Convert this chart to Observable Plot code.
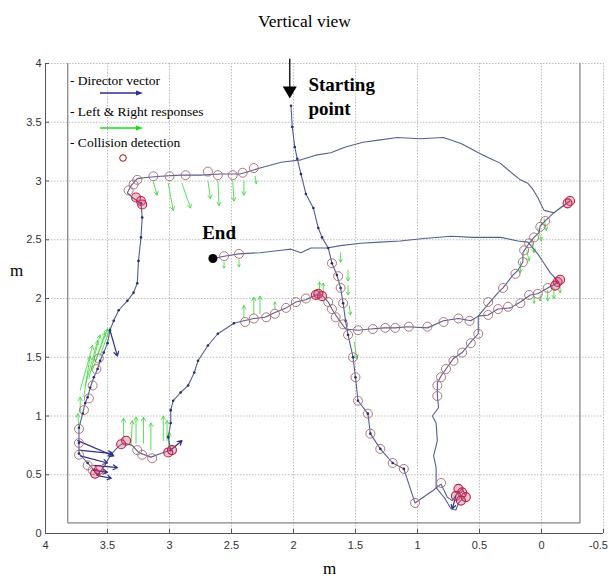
<!DOCTYPE html>
<html><head><meta charset="utf-8">
<script src="https://cdn.jsdelivr.net/npm/d3@7"></script>
<script src="https://cdn.jsdelivr.net/npm/@observablehq/plot@0.6"></script>
<style>
body{margin:0;background:#fff;}
#wrap{position:relative;width:609px;height:581px;font-family:"Liberation Serif","Times New Roman",serif;}
#chart{position:absolute;left:0;top:0;}
.t{position:absolute;white-space:nowrap;color:#000;line-height:1.15;}
.lg{position:absolute;left:0;top:0;}
</style></head><body><div id="wrap">
<div id="chart"></div>
<div class="t" style="left:0;width:609px;top:11px;text-align:center;font-size:17.5px;">Vertical view</div>
<div class="t" style="left:10px;top:261px;font-size:17px;">m</div>
<div class="t" style="left:323px;top:559px;font-size:17px;">m</div>
<div class="t" style="left:70px;top:73px;font-size:13.5px;">- Director vector</div>
<div class="t" style="left:70px;top:104px;font-size:13.5px;">- Left &amp; Right responses</div>
<div class="t" style="left:70px;top:135px;font-size:13.5px;">- Collision detection</div>
<svg class="lg" width="609" height="581">
  <line x1="100" y1="93" x2="137" y2="93" stroke="#2b2f90" stroke-width="1.3"/>
  <path d="M143,93 l-7,-2.5 l0,5z" fill="#2b2f90"/>
  <line x1="100" y1="128" x2="137" y2="128" stroke="#18e018" stroke-width="1.3"/>
  <path d="M143,128 l-7,-2.5 l0,5z" fill="#18e018"/>
  <circle cx="123" cy="158" r="3.3" fill="none" stroke="#a01010" stroke-width="1"/>
</svg>
</div>
<script>
// axis ticks
const xTicks = [4, 3.5, 3, 2.5, 2, 1.5, 1, 0.5, 0, -0.5];
const yTicks = [0, 0.5, 1, 1.5, 2, 2.5, 3, 3.5, 4];

// robot trajectory legs [x (m), y (m)]
const legStart = [[2.02,3.64],[2.01,3.46],[1.99,3.29],[1.97,3.19],[1.94,3.06],[1.90,2.89],[1.84,2.77],[1.80,2.60],[1.77,2.52],[1.72,2.43],[1.69,2.30],[1.65,2.20],[1.62,2.09],[1.60,1.96],[1.58,1.81],[1.56,1.69],[1.52,1.50],[1.50,1.33],[1.48,1.13],[1.40,1.02],[1.38,0.85],[1.30,0.72],[1.20,0.60],[1.11,0.55],[1.02,0.26],[0.87,0.37],[0.81,0.42],[0.76,0.31],[0.72,0.28],[0.68,0.34],[0.64,0.38],[0.61,0.32],[0.67,0.26],[0.69,0.20],[0.73,0.21],[0.78,0.30],[0.85,0.39]];
const legUp = [[0.85,0.39],[0.85,0.56],[0.87,0.66],[0.84,0.79],[0.85,0.94],[0.88,1.00],[0.83,1.07],[0.84,1.17],[0.84,1.28],[0.81,1.34],[0.77,1.40],[0.71,1.49],[0.64,1.54],[0.57,1.63],[0.51,1.70],[0.51,1.85],[0.44,1.94],[0.35,2.05],[0.31,2.09],[0.23,2.20],[0.19,2.24],[0.15,2.31],[0.15,2.39],[0.10,2.47],[0.06,2.52],[0.02,2.56],[0.01,2.62],[-0.03,2.66],[-0.10,2.73],[-0.23,2.83],[-0.15,2.77],[-0.10,2.73]];
const legArc = [[-0.10,2.73],[-0.02,2.75],[0.03,2.86],[0.07,2.93],[0.11,2.98],[0.17,3.01],[0.23,3.06],[0.33,3.15],[0.41,3.19],[0.49,3.23],[0.58,3.28],[0.65,3.32],[0.79,3.37],[0.98,3.36],[1.16,3.37],[1.30,3.35],[1.44,3.33],[1.58,3.29],[1.70,3.24],[1.82,3.22],[1.94,3.18],[2.10,3.16],[2.27,3.11],[2.43,3.06],[2.59,3.06],[2.75,3.05],[2.91,3.05],[3.07,3.04],[3.19,3.03],[3.26,3.02],[3.31,2.96],[3.34,2.90],[3.30,2.86],[3.23,2.81],[3.22,2.69],[3.23,2.52],[3.25,2.32],[3.26,2.13],[3.29,2.05],[3.34,1.98],[3.41,1.90],[3.45,1.81],[3.48,1.73],[3.50,1.62],[3.53,1.54],[3.56,1.47],[3.58,1.40],[3.61,1.33],[3.64,1.24],[3.66,1.16],[3.68,1.11],[3.70,1.02],[3.73,0.90],[3.73,0.77],[3.73,0.68],[3.66,0.60],[3.61,0.54],[3.58,0.50]];
const legReturn = [[3.58,0.50],[3.52,0.58],[3.48,0.66],[3.44,0.71],[3.40,0.75],[3.37,0.77],[3.30,0.75],[3.25,0.69],[3.15,0.65],[3.07,0.68],[2.99,0.71],[3.01,0.82],[2.99,0.94],[2.99,1.05],[2.97,1.13],[2.91,1.20],[2.85,1.26],[2.80,1.37],[2.77,1.47],[2.69,1.60],[2.61,1.70],[2.48,1.79],[2.40,1.81],[2.32,1.83],[2.23,1.84],[2.15,1.88],[2.06,1.92],[1.98,1.97],[1.90,1.99],[1.82,2.03],[1.77,2.03],[1.72,1.97],[1.69,1.91],[1.66,1.86],[1.62,1.80],[1.58,1.74],[1.48,1.73],[1.38,1.74],[1.27,1.75],[1.18,1.75],[1.08,1.76],[0.92,1.75],[0.79,1.81],[0.67,1.83],[0.57,1.81],[0.51,1.85],[0.43,1.86],[0.35,1.91],[0.25,1.92],[0.17,1.97],[0.09,2.03],[0.03,2.04],[-0.05,2.09],[-0.14,2.14],[-0.07,2.22],[-0.02,2.30],[0.03,2.38],[0.11,2.48],[0.19,2.49],[0.33,2.52],[0.55,2.52],[0.73,2.53],[0.95,2.51],[1.14,2.49],[1.30,2.48],[1.46,2.47],[1.62,2.45],[1.73,2.43],[1.86,2.43],[1.94,2.39],[2.02,2.42],[2.10,2.41],[2.27,2.39],[2.44,2.38],[2.56,2.36],[2.65,2.34]];

// collision detections (open circles) and repeated hits (red clusters)
const collisions = [[3.33,2.92],[3.29,2.97],[3.26,3.01],[3.13,3.04],[3.00,3.04],[2.87,3.05],[2.69,3.08],[2.61,3.05],[2.49,3.05],[2.41,3.07],[2.32,3.11],
  [3.57,1.49],[3.59,1.40],[3.62,1.26],[3.65,1.15],[3.69,1.05],[3.73,0.89],[3.73,0.77],[3.73,0.67],[3.66,0.58],[3.62,0.54],
  [3.26,0.71],[3.22,0.67],[3.14,0.64],
  [2.39,1.80],[2.32,1.83],[2.22,1.84],[2.15,1.87],[2.06,1.92],[1.98,1.97],[1.90,2.00],[1.72,1.97],[1.69,1.91],[1.66,1.84],[1.60,1.78],
  [1.48,1.73],[1.36,1.74],[1.26,1.75],[1.18,1.75],[1.07,1.76],[0.92,1.76],[0.79,1.80],[0.67,1.83],[0.58,1.81],[0.43,1.86],[0.35,1.91],[0.27,1.93],[0.17,1.96],[0.10,2.03],[0.03,2.04],[-0.05,2.09],
  [0.51,1.70],[0.43,1.97],[0.31,2.09],[0.21,2.21],[0.15,2.31],[0.14,2.41],[0.10,2.47],[0.06,2.52],[0.01,2.61],[-0.03,2.66],
  [0.84,1.17],[0.84,1.26],[0.81,1.33],[0.77,1.40],[0.71,1.47],[0.64,1.54],[0.57,1.62],
  [1.69,2.30],[1.64,2.19],[1.62,2.09],[1.60,1.96],[1.56,1.69],[1.52,1.50],[1.50,1.33],[1.48,1.13],[1.40,1.02],[1.38,0.85],[1.30,0.72],[1.20,0.60],[1.11,0.55],[1.02,0.26],[0.81,0.43],
  [2.56,2.36],[2.44,2.38]];
const hits = [[3.27,2.86],[3.23,2.83],[3.22,2.80],[3.60,0.51],[3.57,0.54],[3.35,0.79],[3.39,0.76],[3.01,0.69],[2.98,0.71],[1.82,2.03],[1.77,2.02],[1.80,2.04],
  [-0.13,2.14],[-0.15,2.16],[-0.11,2.11],[-0.23,2.83],[-0.21,2.81],[0.67,0.38],[0.64,0.35],[0.69,0.32],[0.61,0.31],[0.65,0.28]];

// left & right responses [x1, y1, x2, y2]
const responses = [[3.13,2.99,3.10,2.88],[3.01,2.98,2.97,2.75],[2.90,2.98,2.83,2.77],[2.69,3.00,2.67,2.85],[2.61,3.00,2.60,2.79],[2.49,3.00,2.48,2.83],[2.40,3.00,2.40,2.88],[2.31,3.04,2.30,2.98],
  [3.72,1.22,3.62,1.60],[3.68,1.26,3.58,1.64],[3.65,1.32,3.56,1.69],[3.62,1.39,3.52,1.71],[3.60,1.46,3.50,1.74],[3.56,1.51,3.48,1.75],[3.69,1.17,3.64,1.51],[3.72,1.03,3.72,1.16],[3.73,0.90,3.74,1.02],
  [3.37,0.79,3.37,0.98],[3.27,0.77,3.27,0.99],[3.21,0.77,3.21,0.99],[3.15,0.71,3.15,0.94],[3.05,0.79,3.05,1.00],[3.02,0.79,3.02,0.96],[3.01,0.72,3.00,0.86],[3.31,0.75,3.30,0.96],
  [2.40,1.84,2.40,1.94],[2.32,1.87,2.32,2.01],[2.27,1.87,2.27,2.02],[2.15,1.91,2.15,1.97],[1.79,2.06,1.79,2.14],[1.76,2.06,1.76,2.13],
  [2.56,2.31,2.56,2.26],[2.44,2.33,2.44,2.27],
  [1.62,2.39,1.62,2.31],[1.56,2.24,1.56,2.15],[1.56,2.11,1.56,2.03],[1.55,1.94,1.54,1.86],[1.51,1.63,1.49,1.49],
  [-0.02,2.68,-0.04,2.58],[0.03,2.60,0.00,2.49],[0.08,2.49,0.06,2.39],[0.12,2.41,0.10,2.32],[0.17,2.31,0.17,2.22],
  [0.06,2.02,0.06,1.96],[-0.05,2.07,-0.05,1.98],[-0.10,2.09,-0.10,2.00],[-0.15,2.12,-0.15,2.05],[0.01,2.03,0.01,1.98]];

// director vectors [x1, y1, x2, y2]
const directors = [[3.74,0.79,3.45,0.66],[3.73,0.71,3.46,0.68],[3.72,0.66,3.50,0.60],[3.61,0.58,3.42,0.56],[3.61,0.54,3.50,0.52],[3.57,0.49,3.47,0.47],
  [2.99,0.71,2.90,0.79],[3.48,1.73,3.42,1.51],[0.69,0.32,0.72,0.21]];

// annotations
const startArrow = [[2.03,4.04,2.03,3.78]];
const startHead = [[2.03,3.77]];
const endPoint = [[2.65,2.34]];
const startNote = [{x:1.88, y:3.73, text:"Starting\npoint"}];
const endNote = [{x:2.60, y:2.56, text:"End"}];
const innerBox = [[3.82,4.0],[3.82,0.09],[-0.31,0.09],[-0.31,4.0]];

const track = [];
[["start",legStart],["up",legUp],["arc",legArc],["return",legReturn]].forEach(([leg, pts]) =>
  pts.forEach(([x,y]) => track.push({leg, x, y})));
const vecDots = legStart.slice(0,24).concat(legArc.slice(33), legReturn.slice(10,22));

const fmt = d => String(d);
const serif = "'Liberation Serif', 'Times New Roman', serif";
const chart = Plot.plot({
  width: 609, height: 581,
  marginTop: 63, marginBottom: 48, marginLeft: 45, marginRight: 6,
  style: {background: "transparent", fontFamily: "'Liberation Sans', Arial, sans-serif", fontSize: "11px", overflow: "visible"},
  x: {domain: [4, -0.5], label: null},
  y: {domain: [0, 4], label: null},
  marks: [
    Plot.gridX(xTicks, {stroke: "#bdbdbd", strokeOpacity: 1, strokeDasharray: "1.5,1.5"}),
    Plot.gridY(yTicks, {stroke: "#bdbdbd", strokeOpacity: 1, strokeDasharray: "1.5,1.5"}),
    Plot.ruleX([4], {stroke: "#555"}),
    Plot.ruleY([0], {stroke: "#555"}),
    Plot.axisX(xTicks, {tickSize: 4, dy: -4, fill: "none", stroke: "#555"}),
    Plot.axisY(yTicks, {tickSize: 4, dx: 4, fill: "none", stroke: "#555"}),
    Plot.axisX(xTicks.slice(0, -1), {tickSize: 0, tickPadding: 8, tickFormat: fmt, fill: "#333"}),
    Plot.axisX(xTicks.slice(-1), {tickSize: 0, tickPadding: 8, tickFormat: fmt, fill: "#333", dx: -5}),
    Plot.axisY(yTicks, {tickSize: 0, tickPadding: 4, tickFormat: fmt, fill: "#333"}),
    Plot.line(innerBox, {x: d => d[0], y: d => d[1], stroke: "#666", strokeWidth: 1}),
    Plot.arrow(responses, {x1: d => d[0], y1: d => d[1], x2: d => d[2], y2: d => d[3], stroke: "#3fd83f", strokeWidth: 1, headLength: 6, strokeOpacity: 0.85}),
    Plot.line(track, {x: "x", y: "y", z: "leg", stroke: "#55608f", strokeWidth: 1.1}),
    Plot.dot(vecDots, {x: d => d[0], y: d => d[1], r: 1.3, fill: "#262c78"}),
    Plot.arrow(directors, {x1: d => d[0], y1: d => d[1], x2: d => d[2], y2: d => d[3], stroke: "#2c3188", strokeWidth: 1.2, headLength: 6}),
    Plot.dot(collisions, {x: d => d[0], y: d => d[1], r: 4.5, stroke: "#a9666e", strokeWidth: 0.9}),
    Plot.dot(hits, {x: d => d[0], y: d => d[1], r: 4.5, stroke: "#c8203a", fill: "#c04080", fillOpacity: 0.3, strokeWidth: 1.1}),
    Plot.link(startArrow, {x1: d => d[0], y1: d => d[1], x2: d => d[2], y2: d => d[3], stroke: "black", strokeWidth: 1.3}),
    Plot.dot(startHead, {x: d => d[0], y: d => d[1], symbol: "triangle", rotate: 180, r: 5.2, fill: "black"}),
    Plot.dot(endPoint, {x: d => d[0], y: d => d[1], r: 4.5, fill: "black"}),
    Plot.text(startNote, {x: "x", y: "y", text: "text", textAnchor: "start", fontSize: 19, fontWeight: "bold", fontFamily: serif, fill: "black", lineHeight: 1.26}),
    Plot.text(endNote, {x: "x", y: "y", text: "text", textAnchor: "middle", fontSize: 19, fontWeight: "bold", fontFamily: serif, fill: "black"})
  ]
});
document.getElementById("chart").appendChild(chart);
</script>
</body></html>
